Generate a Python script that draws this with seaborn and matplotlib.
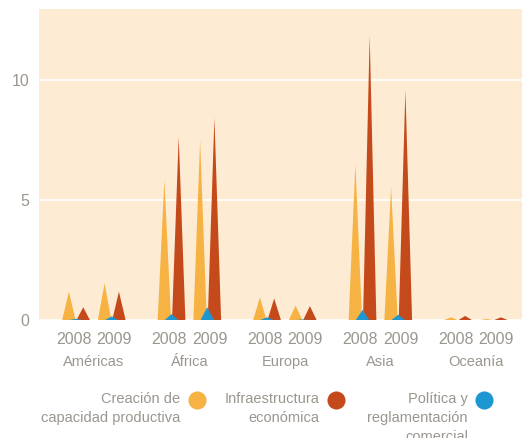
import numpy as np
import matplotlib.pyplot as plt
import seaborn as sns

# data
regions = ['Américas', 'África', 'Europa', 'Asia', 'Oceanía']
years = ['2008', '2009']
series = ['Creación de\ncapacidad productiva',
          'Infraestructura\neconómica',
          'Política y\nreglamentación\ncomercial']

# each row: [2008, 2009]
capacidad = [[1.18, 1.53], [5.85, 7.47], [0.94, 0.60], [6.50, 5.53], [0.11, 0.04]]
infraestructura = [[0.53, 1.18], [7.64, 8.42], [0.90, 0.58], [11.85, 9.58], [0.17, 0.11]]
politica = [[0.05, 0.15], [0.25, 0.53], [0.11, 0.02], [0.42, 0.22], [0.0, 0.0]]

colors = ['#f6b344', '#c54a1b', '#1c97d2']
bg = '#fdebd3'
txt = '#9b968f'

sns.set_theme(style='whitegrid', rc={
    'axes.facecolor': bg, 'grid.color': 'white', 'grid.linewidth': 1.2,
    'axes.edgecolor': bg,
})
plt.rcParams['font.family'] = ['Liberation Sans', 'DejaVu Sans']

fig = plt.figure(figsize=(5.24, 4.38), dpi=100)
# plot area: 39..522 px wide, 9..320 px tall
ax = fig.add_axes([39 / 524, 1 - 320 / 438, 483 / 524, 311 / 438])

year_off = 0.187   # spike group offset per year
ser_off = [-0.075, 0.075, 0.0]
half_w = 0.07

for vals, off, c in zip([capacidad, infraestructura, politica], ser_off, colors):
    for gi, pair in enumerate(vals):
        for yi, v in enumerate(pair):
            if v <= 0:
                continue
            x = gi + (yi - 0.5) * 2 * year_off + off
            ax.fill([x - half_w, x, x + half_w], [0, v, 0], color=c, lw=0, zorder=3)

ax.set_xlim(-0.575, 4.483)
ax.set_ylim(0, 12.96)
ax.set_yticks([0, 5, 10])
ax.grid(axis='x', visible=False)
for sp in ax.spines.values():
    sp.set_visible(False)

label_off = 0.21
xt = [gi + (yi - 0.5) * 2 * label_off for gi in range(len(regions)) for yi in range(2)]
ax.set_xticks(xt)
ax.set_xticklabels(years * len(regions))
ax.tick_params(axis='x', length=0, pad=9, labelsize=11.5, colors=txt)
ax.tick_params(axis='y', length=0, pad=7, labelsize=11.5, colors=txt)

for gi, r in enumerate(regions):
    ax.text(gi, -0.135, r, transform=ax.get_xaxis_transform(), ha='center', va='center',
            fontsize=10.5, color=txt)

# legend: text right-aligned, marker to the right
text_right = [180, 319, 468]
marker_x = [197, 336, 484]
for s, tr, mx, c in zip(series, text_right, marker_x, colors):
    fig.text(tr / 524, 1 - 392 / 438, s, ha='right', va='top', multialignment='right',
             fontsize=10.5, color=txt, linespacing=1.45)
    ax.scatter([mx / 524], [1 - 399.5 / 438], s=170, color=c, transform=fig.transFigure,
               clip_on=False, zorder=5, linewidths=0)

fig.savefig('out.png', dpi=100)
